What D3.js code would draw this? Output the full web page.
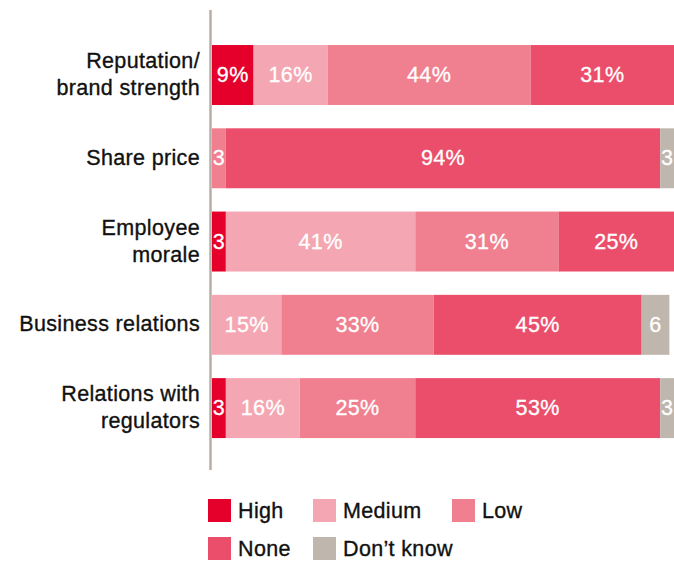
<!DOCTYPE html>
<html>
<head>
<meta charset="utf-8">
<script src="https://cdn.jsdelivr.net/npm/d3@7"></script>
<style>
  html, body { margin: 0; padding: 0; background: #fff; }
  svg { display: block; font-family: "Liberation Sans", Arial, Helvetica, sans-serif; }
</style>
</head>
<body>
<svg id="chart" width="674" height="562"></svg>
<script>
// Impact areas (each label split into display lines)
const categories = [
  ["Reputation/", "brand strength"],
  ["Share price"],
  ["Employee", "morale"],
  ["Business relations"],
  ["Relations with", "regulators"]
];
const seriesNames = ["High", "Medium", "Low", "None", "Don\u2019t know"];
const high     = [9, 0, 3, 0, 3];
const medium   = [16, 0, 41, 15, 16];
const low      = [44, 3, 31, 33, 25];
const none     = [31, 94, 25, 45, 53];
const dontKnow = [0, 3, 0, 6, 3];
const colors = ["#e4002b", "#f4a7b2", "#f08090", "#eb4e6b", "#bfb6ae"];

const seriesValues = [high, medium, low, none, dontKnow];
const rows = categories.map((c, i) => {
  const r = { key: i };
  seriesNames.forEach((s, j) => { r[s] = seriesValues[j][i]; });
  return r;
});

const svg = d3.select("#chart");
const plotLeft = 212, plotRight = 674, plotTop = 3.4, plotBottom = 479.7;
const fontSize = 21.5;

const x = d3.scaleLinear().domain([0, 100]).range([plotLeft, plotRight]);
const y = d3.scaleBand().domain(d3.range(categories.length))
  .range([plotTop, plotBottom]).paddingInner(0.28).paddingOuter(0.5);

const stack = d3.stack().keys(seriesNames)(rows);
const color = d3.scaleOrdinal().domain(seriesNames).range(colors);

const layers = svg.append("g").selectAll("g").data(stack).join("g")
  .attr("fill", d => color(d.key));

layers.selectAll("rect").data(d => d.filter(s => s[1] - s[0] > 0)).join("rect")
  .attr("x", d => x(d[0]))
  .attr("y", d => y(d.data.key))
  .attr("width", d => x(d[1]) - x(d[0]))
  .attr("height", y.bandwidth());

// Value labels inside segments (small shares shown without the % sign)
layers.selectAll("text").data(d => d.filter(s => s[1] - s[0] > 0)).join("text")
  .attr("x", d => (x(d[0]) + x(d[1])) / 2)
  .attr("y", d => y(d.data.key) + y.bandwidth() / 2)
  .attr("text-anchor", "middle")
  .attr("dominant-baseline", "central")
  .attr("fill", "#fff")
  .attr("stroke", "#fff").attr("stroke-width", 0.3)
  .attr("letter-spacing", 0.4)
  .attr("font-size", fontSize)
  .text(d => { const v = d[1] - d[0]; return v < 7 ? v : v + "%"; });

// Vertical axis line
svg.append("line")
  .attr("x1", 210.5).attr("x2", 210.5)
  .attr("y1", 10).attr("y2", 470)
  .attr("stroke", "#b8aea6").attr("stroke-width", 2.5);

// Category labels
const labels = svg.append("g").selectAll("text").data(categories).join("text")
  .attr("text-anchor", "end")
  .attr("font-size", fontSize)
  .attr("fill", "#111")
  .attr("stroke", "#111").attr("stroke-width", 0.35)
  .attr("letter-spacing", 0.35)
  .attr("transform", (d, i) => `translate(200,${y(i) + y.bandwidth() / 2 - 0.5})`);
labels.selectAll("tspan").data(d => d.map((t, k) => ({ t, k, n: d.length }))).join("tspan")
  .attr("x", 0)
  .attr("y", d => (d.k - (d.n - 1) / 2) * 27)
  .attr("dominant-baseline", "central")
  .text(d => d.t);

// Legend
const legendPos = [[208, 499], [313, 499], [452, 499], [208, 537], [313, 537]];
const legend = svg.append("g").selectAll("g").data(seriesNames).join("g")
  .attr("transform", (d, i) => `translate(${legendPos[i][0]},${legendPos[i][1]})`);
legend.append("rect").attr("width", 23).attr("height", 23).attr("fill", d => color(d));
legend.append("text")
  .attr("x", 30).attr("y", 11.5)
  .attr("dominant-baseline", "central")
  .attr("font-size", fontSize).attr("fill", "#111")
  .attr("stroke", "#111").attr("stroke-width", 0.35)
  .attr("letter-spacing", 0.35)
  .text(d => d);
</script>
</body>
</html>
